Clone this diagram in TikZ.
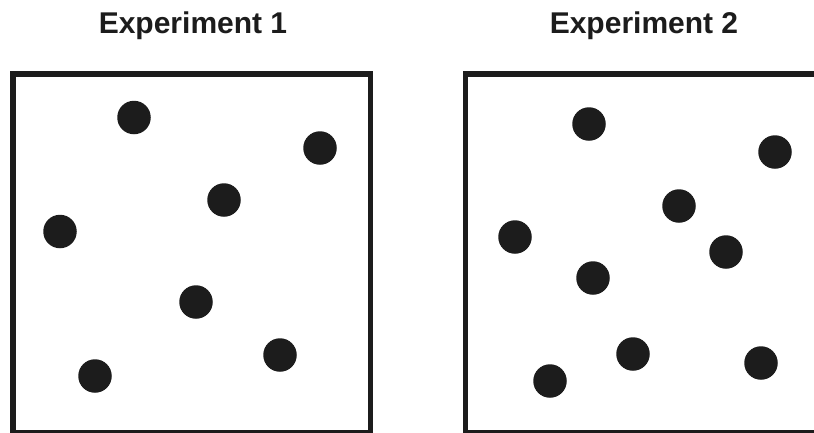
\documentclass[tikz,border=0pt]{standalone}
\usepackage{fontspec}
\setmainfont{Liberation Sans}
\definecolor{ink}{HTML}{1C1C1C}
\begin{document}
\begin{tikzpicture}[x=1pt,y=-1pt,
  dot/.style={circle,fill=ink,draw=none,minimum size=33.5pt,inner sep=0pt},
  frame/.style={draw=ink,line width=5.5pt},
  title/.style={font=\bfseries\fontsize{30}{35}\selectfont,text=ink,anchor=base,inner sep=0pt}]
\useasboundingbox (0,0) rectangle (814,432);
\fill[white] (0,0) rectangle (814,432);
% titles
\node[title] (t1) at (193,33.5) {Experiment 1};
\node[title] (t2) at (644,33.5) {Experiment 2};
% frames
\draw[frame] (12.75,73.8) rectangle (370.5,432.6);
\draw[frame] (465.5,73.8) rectangle (823,432.6);
% experiment 1 dots
\node[dot] (a1) at (134,117.5) {};
\node[dot] (a2) at (320,148) {};
\node[dot] (a3) at (224,200) {};
\node[dot] (a4) at (60,231.5) {};
\node[dot] (a5) at (196,302) {};
\node[dot] (a6) at (280,355) {};
\node[dot] (a7) at (95,376) {};
% experiment 2 dots
\node[dot] (b1) at (589,124) {};
\node[dot] (b2) at (775,152) {};
\node[dot] (b3) at (679,206) {};
\node[dot] (b4) at (515,237) {};
\node[dot] (b5) at (726,252) {};
\node[dot] (b6) at (593,278) {};
\node[dot] (b7) at (633,354) {};
\node[dot] (b8) at (550,381) {};
\node[dot] (b9) at (761,363) {};
\end{tikzpicture}
\end{document}
